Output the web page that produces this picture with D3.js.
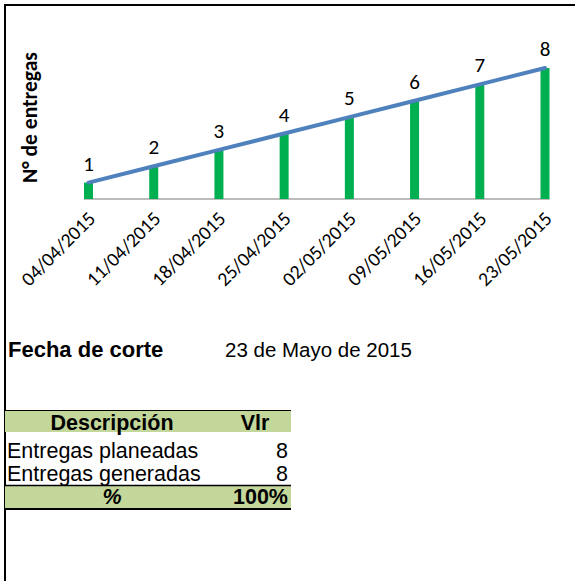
<!DOCTYPE html>
<html>
<head>
<meta charset="utf-8">
<script src="https://cdn.jsdelivr.net/npm/d3@7"></script>
<style>
  html, body { margin: 0; padding: 0; background: #fff; }
  svg { display: block; }
</style>
</head>
<body>
<svg id="sheet" width="575" height="581"></svg>
<script>
// Weekly cumulative deliveries
const fechas = ["04/04/2015", "11/04/2015", "18/04/2015", "25/04/2015",
                "02/05/2015", "09/05/2015", "16/05/2015", "23/05/2015"];
const entregas = [1, 2, 3, 4, 5, 6, 7, 8];

// Summary table
const tablaEncabezado = ["Descripción", "Vlr"];
const tablaFilas = [["Entregas planeadas", "8"], ["Entregas generadas", "8"]];
const tablaTotal = ["%", "100%"];

const fechaCorteEtiqueta = "Fecha de corte";
const fechaCorte = "23 de Mayo de 2015";
const tituloY = "N° de entregas";

const chartFont = "Carlito, Calibri, Lato, sans-serif";
const tableFont = "Arial, 'Liberation Sans', sans-serif";

const svg = d3.select("#sheet");

// sheet frame (top and left edges)
svg.append("line").attr("x1", 4).attr("x2", 575).attr("y1", 5).attr("y2", 5)
  .attr("stroke", "#000").attr("stroke-width", 2);
svg.append("line").attr("x1", 5).attr("x2", 5).attr("y1", 4).attr("y2", 581)
  .attr("stroke", "#000").attr("stroke-width", 2);

// scales
const x = d3.scalePoint().domain(fechas).range([88.5, 545]);
const y = d3.scaleLinear().domain([0, 8]).range([199, 68]);
const barW = 9;

// scale a text's font size so its rendered width hits a target
function fitWidth(sel, target) {
  sel.each(function () {
    const w = this.getComputedTextLength();
    const fs = parseFloat(this.getAttribute("font-size"));
    if (w > 0) this.setAttribute("font-size", (fs * target / w).toFixed(2));
  });
}

const chart = svg.append("g");

// category axis line
const xAxis = d3.axisBottom(x).tickSize(0).tickFormat("");
const ax = chart.append("g").attr("transform", `translate(0,${y(0)})`).call(xAxis);
ax.select(".domain").attr("d", `M${x(fechas[0]) - barW / 2},0H${x(fechas[fechas.length - 1]) + barW / 2}`)
  .attr("stroke", "#A6A6A6").attr("stroke-width", 1.5);

// columns
chart.selectAll("rect.bar").data(entregas).join("rect")
  .attr("class", "bar")
  .attr("x", (d, i) => x(fechas[i]) - barW / 2)
  .attr("width", barW)
  .attr("y", d => y(d))
  .attr("height", d => y(0) - y(d))
  .attr("fill", "#00B050");

// trend line
const line = d3.line().x((d, i) => x(fechas[i])).y(d => y(d));
chart.append("path").datum(entregas)
  .attr("d", line)
  .attr("fill", "none")
  .attr("stroke", "#4F81BD")
  .attr("stroke-width", 4)
  .attr("stroke-linecap", "round");

// value labels
chart.selectAll("text.val").data(entregas).join("text")
  .attr("class", "val")
  .attr("x", (d, i) => x(fechas[i]))
  .attr("y", d => y(d) - 12)
  .attr("text-anchor", "middle")
  .attr("font-family", chartFont)
  .attr("font-size", 21)
  .attr("fill", "#000")
  .text(d => d);

// rotated date labels
const dl = chart.selectAll("text.fecha").data(fechas).join("text")
  .attr("class", "fecha")
  .attr("text-anchor", "end")
  .attr("font-family", chartFont)
  .attr("font-size", 18)
  .attr("fill", "#000")
  .attr("transform", d => `translate(${x(d) + 8},${y(0) + 21}) rotate(-45)`)
  .text(d => d);
fitWidth(dl, 95);

// y title
const yt = chart.append("text")
  .attr("transform", "translate(37,117.5) rotate(-90)")
  .attr("text-anchor", "middle")
  .attr("font-family", chartFont)
  .attr("font-weight", "bold")
  .attr("font-size", 18)
  .attr("fill", "#000")
  .text(tituloY);
fitWidth(yt, 131);

// cut-off date
svg.append("text").attr("x", 8).attr("y", 357)
  .attr("font-family", tableFont).attr("font-weight", "bold").attr("font-size", 22)
  .text(fechaCorteEtiqueta);
svg.append("text").attr("x", 225).attr("y", 357)
  .attr("font-family", tableFont).attr("font-size", 20.5)
  .text(fechaCorte);

// summary table
const tx0 = 5, tx1 = 219, tx2 = 291;
const t = svg.append("g").attr("font-family", tableFont).attr("font-size", 21.5).attr("fill", "#000");

t.append("rect").attr("x", tx0).attr("y", 411).attr("width", tx2 - tx0).attr("height", 21).attr("fill", "#C4D79B");
t.append("rect").attr("x", tx0).attr("y", 486).attr("width", tx2 - tx0).attr("height", 22).attr("fill", "#C4D79B");
t.append("line").attr("x1", tx0).attr("x2", tx2).attr("y1", 410.5).attr("y2", 410.5).attr("stroke", "#000").attr("stroke-width", 1);
t.append("line").attr("x1", tx0).attr("x2", tx2).attr("y1", 485.5).attr("y2", 485.5).attr("stroke", "#000").attr("stroke-width", 1.5);
t.append("line").attr("x1", tx0).attr("x2", tx2).attr("y1", 509).attr("y2", 509).attr("stroke", "#000").attr("stroke-width", 2);

t.append("text").attr("x", (tx0 + tx1) / 2).attr("y", 430).attr("text-anchor", "middle")
  .attr("font-weight", "bold").text(tablaEncabezado[0]);
t.append("text").attr("x", (tx1 + tx2) / 2).attr("y", 430).attr("text-anchor", "middle")
  .attr("font-weight", "bold").text(tablaEncabezado[1]);

tablaFilas.forEach((r, i) => {
  const by = 458 + i * 23;
  t.append("text").attr("x", 7).attr("y", by).text(r[0]);
  t.append("text").attr("x", tx2 - 3).attr("y", by).attr("text-anchor", "end").text(r[1]);
});

t.append("text").attr("x", (tx0 + tx1) / 2).attr("y", 504).attr("text-anchor", "middle")
  .attr("font-weight", "bold").attr("font-style", "italic").text(tablaTotal[0]);
t.append("text").attr("x", tx2 - 3).attr("y", 504).attr("text-anchor", "end")
  .attr("font-weight", "bold").text(tablaTotal[1]);
</script>
</body>
</html>
